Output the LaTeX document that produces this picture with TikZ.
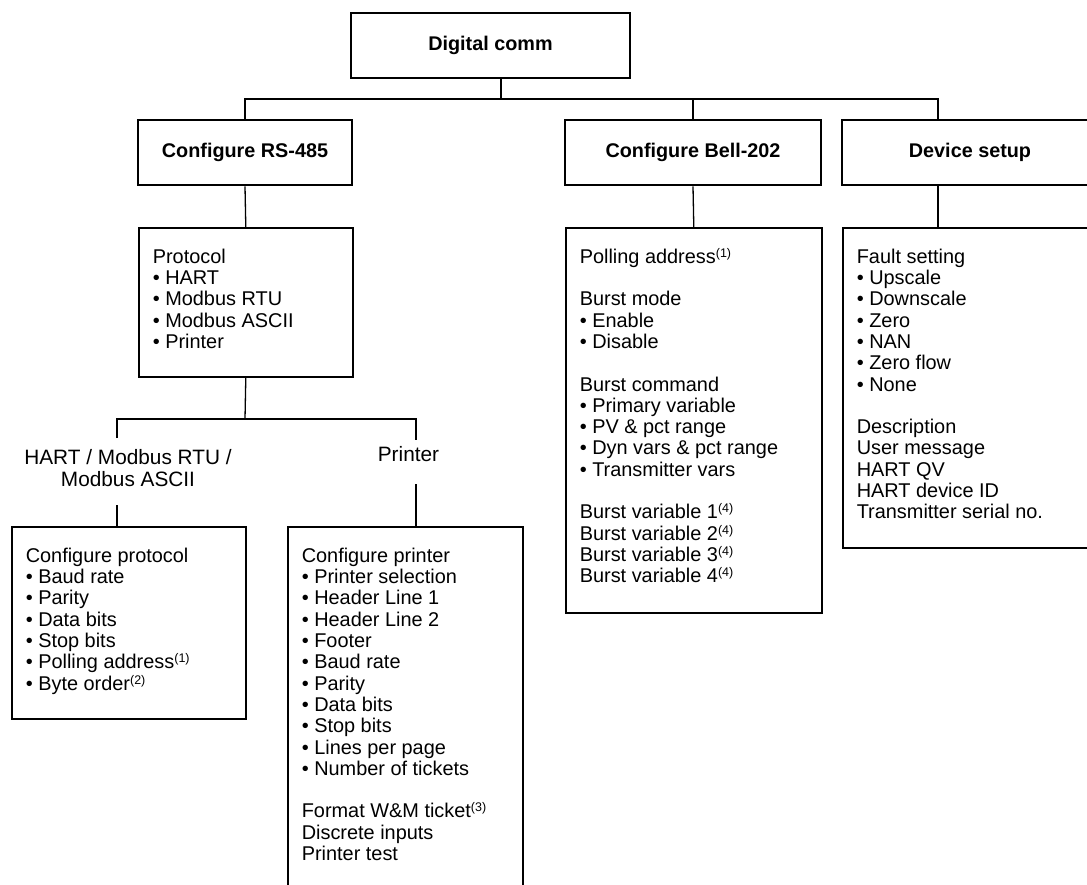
\documentclass[tikz,border=0pt]{standalone}
\usepackage{fontspec}
\setmainfont{Liberation Sans}
\usetikzlibrary{calc,positioning}

\newcommand{\menutext}[3]{\parbox[t][#2][t]{#1}{\raggedright\rule{0pt}{35.5pt}#3}}
\newcommand{\notemark}[1]{\raisebox{6pt}{\fontsize{12.5}{12.5}\selectfont(#1)}}
\newcommand{\gap}{\\[21.3pt]}

\begin{document}
\begin{tikzpicture}[x=1pt,y=1pt]
% Define styles
\tikzstyle{head}=[draw, line width=2.6pt, minimum height=65pt, font=\bfseries\fontsize{19.8}{22}\selectfont]
\tikzstyle{menu}=[draw, line width=1.6pt, anchor=north west, inner xsep=14pt, inner ysep=0pt, font=\fontsize{19.9}{21.3}\selectfont]
\tikzstyle{lbl}=[align=center, anchor=north, inner sep=0pt, font=\fontsize{20.8}{21.8}\selectfont]
\tikzstyle{wire}=[line width=1.3pt]

\useasboundingbox (0,0) rectangle (1087,-885);
\clip (0,0) rectangle (1087,-885);

% Top level
\node[head, minimum width=279pt] (dc) at (490.5,-45.5) {Digital comm};

% Second level
\node[head, minimum width=214pt] (rs) at (245,-152.5) {Configure RS-485};
\node[head, minimum width=256pt] (bell) at (693,-152.5) {Configure Bell-202};
\node[head, minimum width=256pt] (dev) at (970,-152.5) {Device setup};

% Menus
\node[menu] (proto) at (138,-227) {\menutext{186pt}{149pt}{Protocol\\• HART\\• Modbus RTU\\• Modbus ASCII\\• Printer}};
\node[menu] (bellmenu) at (565,-227) {\menutext{228pt}{385pt}{Polling address\notemark{1}\gap
  Burst mode\\• Enable\\• Disable\gap
  Burst command\\• Primary variable\\• PV \& pct range\\• Dyn vars \& pct range\\• Transmitter vars\gap
  Burst variable 1\notemark{4}\\Burst variable 2\notemark{4}\\Burst variable 3\notemark{4}\\Burst variable 4\notemark{4}}};
\node[menu] (devmenu) at (842,-227) {\menutext{228pt}{320pt}{Fault setting\\• Upscale\\• Downscale\\• Zero\\• NAN\\• Zero flow\\• None\gap
  Description\\User message\\HART QV\\HART device ID\\Transmitter serial no.}};

% Protocol branches
\node[lbl] (hart) at (128,-449) {HART / Modbus RTU /\\Modbus ASCII};
\node[lbl] (prn) at (408.5,-446) {Printer};

\node[menu] (cfgproto) at (11,-526) {\menutext{206pt}{192pt}{Configure protocol\\• Baud rate\\• Parity\\• Data bits\\• Stop bits\\• Polling address\notemark{1}\\• Byte order\notemark{2}}};
\node[menu] (cfgprn) at (287,-526) {\menutext{207pt}{380pt}{Configure printer\\• Printer selection\\• Header Line 1\\• Header Line 2\\• Footer\\• Baud rate\\• Parity\\• Data bits\\• Stop bits\\• Lines per page\\• Number of tickets\gap
  Format W\&M ticket\notemark{3}\\Discrete inputs\\Printer test}};

% Connectors
\coordinate (bus) at (501,-99);
\coordinate (split) at (245,-419);
\coordinate (hartA) at (117,-438);
\coordinate (hartB) at (117,-505);
\coordinate (prnA) at (416,-440);
\coordinate (prnB) at (416,-484);

\draw[wire] ([xshift=10.5pt]dc.south) -- (bus);
\draw[wire] (rs.north) |- ([xshift=-32pt]dev.north |- bus) -- ([xshift=-32pt]dev.north);
\draw[wire] (bell.north) -- (bell.north |- bus);
\draw[wire] (rs.south) -- (proto.north);
\draw[wire] (bell.south) -- (bellmenu.north);
\draw[wire] ([xshift=-32pt]dev.south) -- ([xshift=-32pt]dev.south |- devmenu.north);
\draw[wire] (proto.south) -- (split);
\draw[wire] (hartA) |- (split) -| (prnA);
\draw[wire] (hartB) -- (hartB |- cfgproto.north);
\draw[wire] (prnB) -- (prnB |- cfgprn.north);

\end{tikzpicture}
\end{document}
